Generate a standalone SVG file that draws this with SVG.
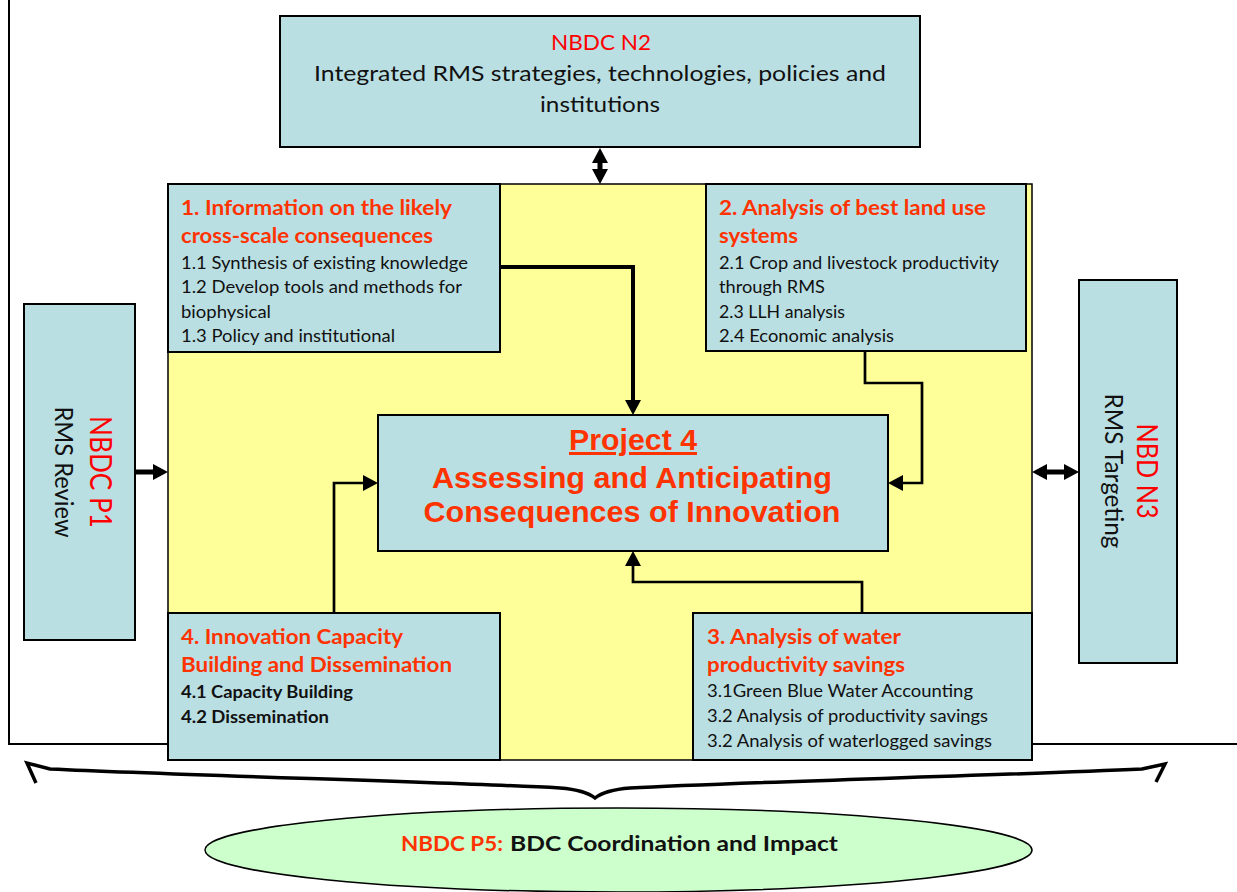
<svg xmlns="http://www.w3.org/2000/svg" width="1237" height="892" viewBox="0 0 1237 892">
<style>
.box{fill:#b9dfe3;stroke:#000;stroke-width:2}
.t{font-family:Lato,"Open Sans","Liberation Sans",sans-serif;fill:#111}
.ttl{font-family:Lato,"Open Sans","Liberation Sans",sans-serif;font-weight:bold;fill:#ff3300;font-size:20px}
.it{font-size:16.5px}
.ar{font-family:"Liberation Sans",Arial,sans-serif;font-weight:bold;fill:#ff3300;font-size:30px}
.red{fill:#ff0000}
.con{fill:none;stroke:#000;stroke-width:2.7}
</style>
<defs>
<marker id="ah" viewBox="0 0 14 14" refX="0" refY="7" markerWidth="14" markerHeight="14" markerUnits="userSpaceOnUse" orient="auto-start-reverse"><path d="M0,0 L14,7 L0,14 z" fill="#000"/></marker>
<marker id="ah2" viewBox="0 0 15 16" refX="0" refY="8" markerWidth="15" markerHeight="16" markerUnits="userSpaceOnUse" orient="auto-start-reverse"><path d="M0,0 L15,8 L0,16 z" fill="#000"/></marker>
</defs>

<path d="M9,-2 V744 H1240" fill="none" stroke="#000" stroke-width="2"/>

<g id="yellow"><rect x="168" y="184" width="864" height="576" fill="#ffff99" stroke="#000" stroke-width="1.5"/></g>

<g id="n2">
<rect class="box" x="280" y="16" width="640" height="131"/>
<text class="t red" x="601" y="50" font-size="22" text-anchor="middle" textLength="100" lengthAdjust="spacingAndGlyphs">NBDC N2</text>
<text class="t" x="600" y="81" font-size="22" text-anchor="middle" textLength="572" lengthAdjust="spacingAndGlyphs">Integrated RMS strategies, technologies, policies and</text>
<text class="t" x="600" y="112" font-size="22" text-anchor="middle" textLength="120" lengthAdjust="spacingAndGlyphs">institutions</text>
</g>

<g id="p1">
<rect class="box" x="24" y="304" width="111" height="336"/>
<text class="t red" transform="translate(90,472) rotate(90)" font-size="30" text-anchor="middle" textLength="112" lengthAdjust="spacingAndGlyphs">NBDC P1</text>
<text class="t" transform="translate(55,472) rotate(90)" font-size="25" text-anchor="middle" textLength="131" lengthAdjust="spacingAndGlyphs">RMS Review</text>
</g>

<g id="n3">
<rect class="box" x="1079" y="280" width="98" height="383"/>
<text class="t red" transform="translate(1137,471) rotate(90)" font-size="28" text-anchor="middle" textLength="95" lengthAdjust="spacingAndGlyphs">NBD N3</text>
<text class="t" transform="translate(1105,471) rotate(90)" font-size="25" text-anchor="middle" textLength="155" lengthAdjust="spacingAndGlyphs">RMS Targeting</text>
</g>

<g id="box1">
<rect class="box" x="168" y="184" width="332" height="168"/>
<text class="ttl" x="181" y="215" textLength="271" lengthAdjust="spacingAndGlyphs">1. Information on the likely</text>
<text class="ttl" x="181" y="243" textLength="252" lengthAdjust="spacingAndGlyphs">cross-scale consequences</text>
<text class="t it" x="181" y="269" textLength="287" lengthAdjust="spacingAndGlyphs">1.1 Synthesis of existing knowledge</text>
<text class="t it" x="181" y="293" textLength="281" lengthAdjust="spacingAndGlyphs">1.2 Develop tools and methods for</text>
<text class="t it" x="181" y="318" textLength="90" lengthAdjust="spacingAndGlyphs">biophysical</text>
<text class="t it" x="181" y="342" textLength="214" lengthAdjust="spacingAndGlyphs">1.3 Policy and institutional</text>
</g>

<g id="box2">
<rect class="box" x="706" y="184" width="320" height="167"/>
<text class="ttl" x="719" y="215" textLength="267" lengthAdjust="spacingAndGlyphs">2. Analysis of best land use</text>
<text class="ttl" x="719" y="243" textLength="79" lengthAdjust="spacingAndGlyphs">systems</text>
<text class="t it" x="719" y="269" textLength="280" lengthAdjust="spacingAndGlyphs">2.1 Crop and livestock productivity</text>
<text class="t it" x="719" y="293" textLength="106" lengthAdjust="spacingAndGlyphs">through RMS</text>
<text class="t it" x="719" y="318" textLength="126" lengthAdjust="spacingAndGlyphs">2.3 LLH analysis</text>
<text class="t it" x="719" y="342" textLength="175" lengthAdjust="spacingAndGlyphs">2.4 Economic analysis</text>
</g>

<g id="box4">
<rect class="box" x="168" y="613" width="332" height="147"/>
<text class="ttl" x="181" y="644" textLength="222" lengthAdjust="spacingAndGlyphs">4. Innovation Capacity</text>
<text class="ttl" x="181" y="672" textLength="271" lengthAdjust="spacingAndGlyphs">Building and Dissemination</text>
<text class="t it" x="181" y="698" font-weight="bold" textLength="172" lengthAdjust="spacingAndGlyphs">4.1 Capacity Building</text>
<text class="t it" x="181" y="723" font-weight="bold" textLength="148" lengthAdjust="spacingAndGlyphs">4.2 Dissemination</text>
</g>

<g id="box3">
<rect class="box" x="693" y="613" width="339" height="147"/>
<text class="ttl" x="707" y="644" textLength="194" lengthAdjust="spacingAndGlyphs">3. Analysis of water</text>
<text class="ttl" x="707" y="672" textLength="198" lengthAdjust="spacingAndGlyphs">productivity savings</text>
<text class="t it" x="707" y="697" textLength="266" lengthAdjust="spacingAndGlyphs">3.1Green Blue Water Accounting</text>
<text class="t it" x="707" y="722" textLength="281" lengthAdjust="spacingAndGlyphs">3.2 Analysis of productivity savings</text>
<text class="t it" x="707" y="747" textLength="285" lengthAdjust="spacingAndGlyphs">3.2 Analysis of waterlogged savings</text>
</g>

<g id="center">
<rect class="box" x="378" y="415" width="510" height="136"/>
<text class="ar" x="633" y="450" text-anchor="middle" text-decoration="underline" textLength="128" lengthAdjust="spacingAndGlyphs">Project 4</text>
<text class="ar" x="632" y="488" text-anchor="middle" textLength="400" lengthAdjust="spacingAndGlyphs">Assessing and Anticipating</text>
<text class="ar" x="632" y="522" text-anchor="middle" textLength="417" lengthAdjust="spacingAndGlyphs">Consequences of Innovation</text>
</g>

<g id="connectors">
<path d="M600,163 V169" stroke="#000" stroke-width="5" fill="none" marker-start="url(#ah2)" marker-end="url(#ah2)"/>
<path d="M135,472 H153" stroke="#000" stroke-width="5" fill="none" marker-end="url(#ah2)"/>
<path d="M1047,472 H1064" stroke="#000" stroke-width="5" fill="none" marker-start="url(#ah2)" marker-end="url(#ah2)"/>
<path d="M500,267 H633 V400" fill="none" stroke="#000" stroke-width="4" stroke-linejoin="miter" marker-end="url(#ah2)"/>
<path class="con" d="M865,351 V383 H922 V483 H903" marker-end="url(#ah2)"/>
<path class="con" d="M862,613 V582 H633 V566" marker-end="url(#ah2)"/>
<path class="con" d="M334,613 V483 H363" marker-end="url(#ah2)"/>
</g>

<g id="p5">
<ellipse cx="618.5" cy="850" rx="413.5" ry="42" fill="#ccffcc" stroke="#000" stroke-width="1.5"/>
<text class="ttl" x="401" y="851" textLength="102" lengthAdjust="spacingAndGlyphs">NBDC P5:</text>
<text class="t" x="510" y="851" font-size="20" font-weight="bold" fill="#000" textLength="328" lengthAdjust="spacingAndGlyphs">BDC Coordination and Impact</text>
</g>

<g id="brace">
<path d="M36,783 L27,763 L50,769 C200,776 450,782 560,788 Q585,790 595,798 Q605,790 630,788 C740,782 990,776 1142,769 L1165,764 L1156,782" fill="none" stroke="#000" stroke-width="3.5" stroke-linejoin="miter"/>
</g>
</svg>
